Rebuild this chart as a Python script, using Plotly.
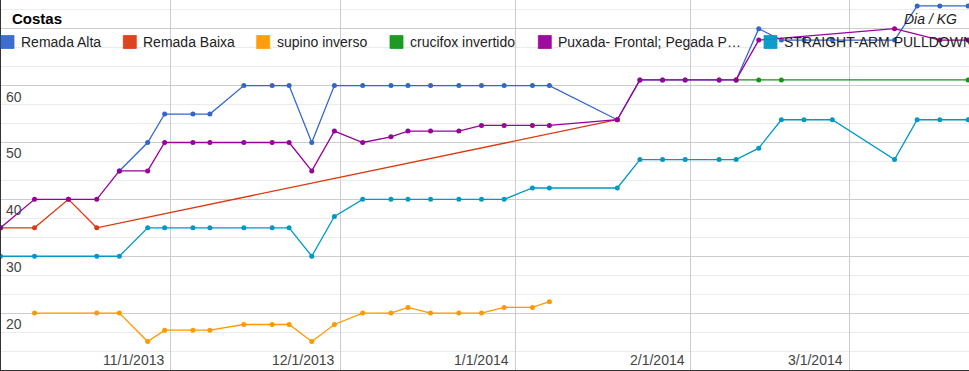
import plotly.graph_objects as go

# ---------------- data ----------------
remada_alta_dates = ["2013-10-23", "2013-10-28", "2013-10-31", "2013-11-05", "2013-11-08", "2013-11-14",
                     "2013-11-19", "2013-11-22", "2013-11-26", "2013-11-30", "2013-12-05", "2013-12-10",
                     "2013-12-13", "2013-12-17", "2013-12-22", "2013-12-26", "2013-12-30", "2014-01-04",
                     "2014-01-07", "2014-01-19", "2014-01-23", "2014-01-27", "2014-01-31", "2014-02-06",
                     "2014-02-09", "2014-02-13", "2014-02-17", "2014-02-21", "2014-02-26", "2014-03-09",
                     "2014-03-13", "2014-03-17", "2014-03-22"]
remada_alta_vals = [45, 50, 55, 55, 55, 60, 60, 60, 50, 60, 60, 60, 60, 60, 60, 60, 60, 60,
                    60, 54, 61, 61, 61, 61, 61, 70, 68, 68, 68, 68, 74, 74, 74]

remada_baixa_dates = ["2013-10-02", "2013-10-08", "2013-10-14", "2013-10-19", "2014-01-19"]
remada_baixa_vals = [35, 35, 40, 35, 54]

supino_dates = ["2013-10-08", "2013-10-19", "2013-10-23", "2013-10-28", "2013-10-31", "2013-11-05",
                "2013-11-08", "2013-11-14", "2013-11-19", "2013-11-22", "2013-11-26", "2013-11-30",
                "2013-12-05", "2013-12-10", "2013-12-13", "2013-12-17", "2013-12-22", "2013-12-26",
                "2013-12-30", "2014-01-04", "2014-01-07"]
supino_vals = [20, 20, 20, 15, 17, 17, 17, 18, 18, 18, 15, 18, 20, 20, 21, 20, 20, 20, 21, 21, 22]

crucifox_dates = ["2014-02-09", "2014-02-13", "2014-02-17", "2014-03-22"]
crucifox_vals = [61, 61, 61, 61]

puxada_dates = ["2013-10-02", "2013-10-08", "2013-10-14", "2013-10-19", "2013-10-23", "2013-10-28",
                "2013-10-31", "2013-11-05", "2013-11-08", "2013-11-14", "2013-11-19", "2013-11-22",
                "2013-11-26", "2013-11-30", "2013-12-05", "2013-12-10", "2013-12-13", "2013-12-17",
                "2013-12-22", "2013-12-26", "2013-12-30", "2014-01-04", "2014-01-07", "2014-01-19",
                "2014-01-23", "2014-01-27", "2014-01-31", "2014-02-06", "2014-02-09", "2014-02-13",
                "2014-03-09", "2014-03-17", "2014-03-22"]
puxada_vals = [35, 40, 40, 40, 45, 45, 50, 50, 50, 50, 50, 50, 45, 52, 50, 51, 52, 52,
               52, 53, 53, 53, 53, 54, 61, 61, 61, 61, 61, 68, 70, 68, 68]

straight_dates = ["2013-10-02", "2013-10-08", "2013-10-19", "2013-10-23", "2013-10-28", "2013-10-31",
                  "2013-11-05", "2013-11-08", "2013-11-14", "2013-11-19", "2013-11-22", "2013-11-26",
                  "2013-11-30", "2013-12-05", "2013-12-10", "2013-12-13", "2013-12-17", "2013-12-22",
                  "2013-12-26", "2013-12-30", "2014-01-04", "2014-01-07", "2014-01-19", "2014-01-23",
                  "2014-01-27", "2014-01-31", "2014-02-06", "2014-02-09", "2014-02-13", "2014-02-17",
                  "2014-02-21", "2014-02-26", "2014-03-09", "2014-03-13", "2014-03-17", "2014-03-22"]
straight_vals = [30, 30, 30, 30, 35, 35, 35, 35, 35, 35, 35, 30, 37, 40, 40, 40, 40, 40,
                 40, 40, 42, 42, 42, 47, 47, 47, 47, 47, 49, 54, 54, 54, 47, 54, 54, 54]

series_names = ["Remada Alta", "Remada Baixa", "supino inverso", "crucifox invertido",
                "Puxada- Frontal; Pegada P…", "STRAIGHT-ARM PULLDOWN"]
series_colors = ["#3366cc", "#dc3912", "#ff9900", "#109618", "#990099", "#0099c6"]

x_tick_dates = ["2013-11-01", "2013-12-01", "2014-01-01", "2014-02-01", "2014-03-01"]
x_tick_labels = ["11/1/2013", "12/1/2013", "1/1/2014", "2/1/2014", "3/1/2014"]
y_tick_vals = [20, 30, 40, 50, 60]
y_tick_labels = ["20", "30", "40", "50", "60"]

title_text = "Costas"
axis_title_text = "Dia / KG"

# ---------------- figure ----------------
W, H = 969, 371
ML, MB = 1, 1
PW, PH = W - ML, H - MB


def px(x):
    return (x - ML) / PW


def py(y):
    return (PH - y) / PH


FONT = "Arial, 'Liberation Sans', sans-serif"

all_series = [
    (remada_alta_dates, remada_alta_vals),
    (remada_baixa_dates, remada_baixa_vals),
    (supino_dates, supino_vals),
    (crucifox_dates, crucifox_vals),
    (puxada_dates, puxada_vals),
    (straight_dates, straight_vals),
]

fig = go.Figure()
for (d, v), name, col in zip(all_series, series_names, series_colors):
    fig.add_trace(go.Scatter(
        x=d, y=v, name=name, mode="lines+markers",
        line=dict(color=col, width=1.3),
        marker=dict(color=col, size=5),
        showlegend=False,
    ))

shapes = []
annotations = []

# title background and text
shapes.append(dict(type="rect", xref="paper", yref="paper", x0=px(0), x1=px(128), y0=py(26), y1=py(0),
                   fillcolor="white", line=dict(width=0), layer="between"))
annotations.append(dict(text="<b>" + title_text + "</b>", xref="paper", yref="paper", x=px(10), y=py(18.5),
                        xanchor="left", yanchor="middle", showarrow=False,
                        font=dict(family=FONT, size=15, color="#000000")))

# legend (inside chart, top)
sq_x = [1, 123.3, 256.7, 390, 538.3, 764]
txt_end = [100, 233, 367, 515, 742, 969]
for i, (name, col) in enumerate(zip(series_names, series_colors)):
    shapes.append(dict(type="rect", xref="paper", yref="paper", x0=px(sq_x[i]), x1=px(txt_end[i]),
                       y0=py(50), y1=py(34), fillcolor="white", line=dict(width=0), layer="between"))
    shapes.append(dict(type="rect", xref="paper", yref="paper", x0=px(sq_x[i]), x1=px(sq_x[i] + 13),
                       y0=py(48.5), y1=py(35.5), fillcolor=col, line=dict(width=0.8, color=col),
                       opacity=0.95, layer="above"))
    annotations.append(dict(text=name, xref="paper", yref="paper", x=px(sq_x[i] + 18), y=py(42),
                            xanchor="left", yanchor="middle", showarrow=False,
                            font=dict(family=FONT, size=14, color="#222222")))

# axis title
annotations.append(dict(text="<i>" + axis_title_text + "</i>", xref="paper", yref="paper", x=px(958.5),
                        y=py(19), xanchor="right", yanchor="middle", showarrow=False,
                        font=dict(family=FONT, size=14, color="#222222")))

# x tick labels (right-aligned to gridline, inside)
for d, t in zip(x_tick_dates, x_tick_labels):
    annotations.append(dict(text=t, xref="x", yref="paper", x=d, y=py(360), xanchor="right",
                            yanchor="middle", xshift=-4, showarrow=False,
                            font=dict(family=FONT, size=14, color="#444444")))

# y tick labels (inside, below gridline)
for v, t in zip(y_tick_vals, y_tick_labels):
    annotations.append(dict(text=t, xref="paper", yref="y", x=px(4), y=v, xanchor="left",
                            yanchor="middle", yshift=-11, showarrow=False,
                            font=dict(family=FONT, size=14, color="#444444")))

fig.update_layout(
    width=W, height=H,
    margin=dict(l=ML, r=0, t=0, b=MB, pad=0),
    paper_bgcolor="white", plot_bgcolor="white",
    showlegend=False,
    shapes=shapes,
    annotations=annotations,
    xaxis=dict(
        type="date",
        range=["2013-10-02 01:55", "2014-03-22 03:50"],
        tick0="2013-11-01", dtick="M1",
        showticklabels=False, ticks="",
        showgrid=True, gridcolor="#cccccc", gridwidth=1,
        showline=True, linecolor="#333333", linewidth=1,
        zeroline=False, fixedrange=True,
    ),
    yaxis=dict(
        range=[10, 75.05],
        tick0=0, dtick=10,
        showticklabels=False, ticks="",
        showgrid=True, gridcolor="#cccccc", gridwidth=1,
        minor=dict(dtick=10 / 3, tick0=0, showgrid=True, gridcolor="#ebebeb", gridwidth=1),
        showline=True, linecolor="#333333", linewidth=1,
        zeroline=False, fixedrange=True,
    ),
)

fig.write_html(
    "out.html",
    config={"displayModeBar": False},
    post_script="document.body.style.margin='0';document.body.style.padding='0';"
                "document.body.style.overflow='hidden';",
)
